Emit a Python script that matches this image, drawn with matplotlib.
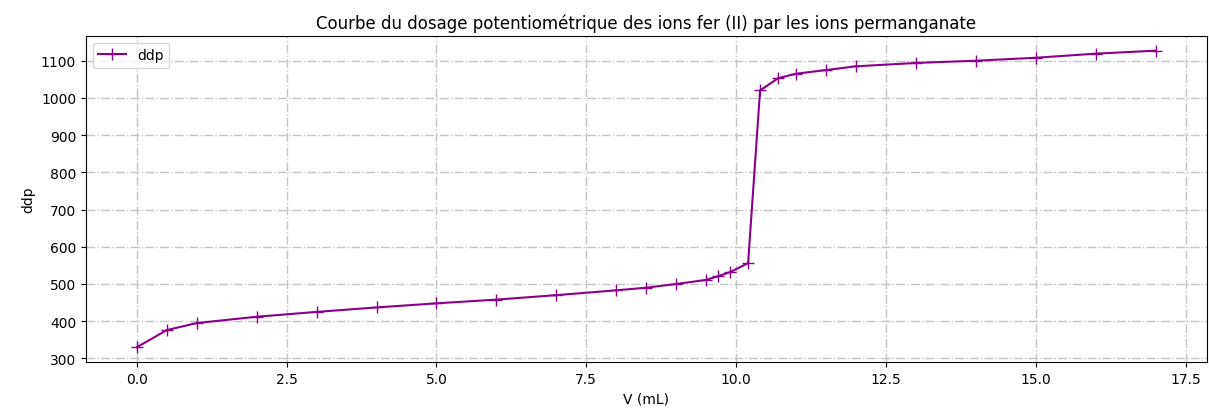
import numpy as np
import matplotlib
matplotlib.use("Agg")
import matplotlib.pyplot as plt

# volume verse (mL) et ddp mesuree (mV)
V = [0, 0.5, 1, 2, 3, 4, 5, 6, 7, 8, 8.5, 9, 9.5, 9.7, 9.9, 10.2,
     10.4, 10.7, 11, 11.5, 12, 13, 14, 15, 16, 17]
ddp = [330, 376, 395, 412, 425, 437, 448, 458, 470, 483, 490, 500, 511, 521, 532, 556,
       1020, 1053, 1065, 1075, 1085, 1094, 1100, 1108, 1119, 1127]

fig = plt.figure(figsize=(12.09, 4.14), dpi=100)
ax = fig.add_subplot(111)
fig.subplots_adjust(left=0.071, right=0.998, top=0.911, bottom=0.123)

ax.plot(V, ddp, color="darkmagenta", marker="+", markersize=8, label="ddp")
ax.grid(True, linestyle="-.", color="#c4c4c4", linewidth=1)
ax.set_title("Courbe du dosage potentiométrique des ions fer (II) par les ions permanganate")
ax.set_xlabel("V (mL)")
ax.set_ylabel("ddp")
ax.legend(loc="upper left")

plt.savefig("out.png", dpi=100)
